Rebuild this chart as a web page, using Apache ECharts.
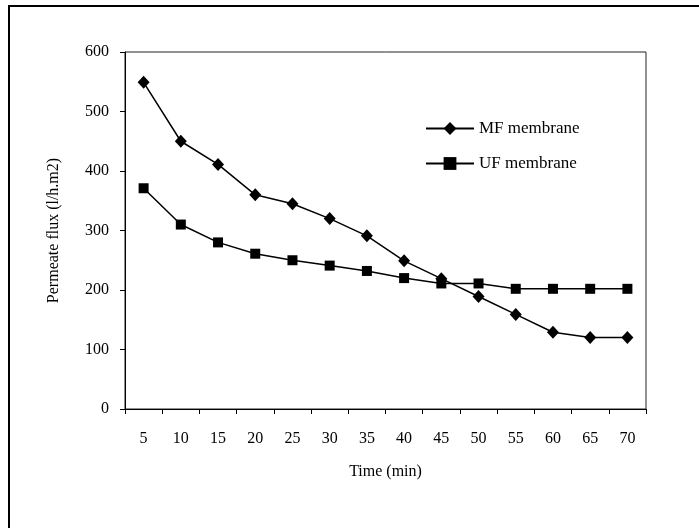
<!DOCTYPE html>
<html>
<head>
<meta charset="utf-8">
<script src="https://cdn.jsdelivr.net/npm/echarts@6/dist/echarts.min.js"></script>
<style>
html,body{margin:0;padding:0;background:#fff;}
#chart{width:699px;height:528px;}
</style>
</head>
<body>
<div id="chart"></div>
<script>
var timeCategories = ['5','10','15','20','25','30','35','40','45','50','55','60','65','70'];
var mfValues = [549, 450, 411, 360, 345, 320, 291, 249, 219, 189, 159, 129, 120, 120];
var ufValues = [371, 310, 280, 261, 250, 241, 232, 220, 211, 211, 202, 202, 202, 202];
var yTicks = {min: 0, max: 600, interval: 100};

var FONT = 'Liberation Serif';
var chart = echarts.init(document.getElementById('chart'), null, {renderer: 'canvas'});
chart.setOption({
  backgroundColor: '#fff',
  animation: false,
  textStyle: {fontFamily: FONT, color: '#000'},
  graphic: [{
    type: 'rect', silent: true, z: 100,
    shape: {x: 9, y: 6, width: 800, height: 700},
    style: {fill: 'none', stroke: '#000', lineWidth: 2}
  }],
  grid: {left: 125, top: 52, right: 53, bottom: 119, show: true, borderColor: '#222', borderWidth: 1, backgroundColor: 'transparent'},
  legend: {
    orient: 'vertical', left: 420, top: 115, itemGap: 18,
    itemWidth: 48, itemHeight: 16,
    textStyle: {fontFamily: FONT, fontSize: 17, color: '#000'},
    data: ['MF membrane', 'UF membrane']
  },
  xAxis: {
    type: 'category', data: timeCategories, boundaryGap: true,
    name: 'Time (min)', nameLocation: 'middle', nameGap: 55,
    nameTextStyle: {fontFamily: FONT, fontSize: 16, color: '#000'},
    axisLine: {lineStyle: {color: '#000', width: 1}},
    axisTick: {show: true, length: 5, lineStyle: {color: '#000'}},
    axisLabel: {fontFamily: FONT, fontSize: 16, color: '#000', margin: 22},
    splitLine: {show: false}
  },
  yAxis: {
    type: 'value', min: yTicks.min, max: yTicks.max, interval: yTicks.interval,
    name: 'Permeate flux (l/h.m2)', nameLocation: 'middle', nameGap: 63, nameRotate: 90,
    nameTextStyle: {fontFamily: FONT, fontSize: 16, color: '#000'},
    axisLine: {show: true, lineStyle: {color: '#000', width: 1}},
    axisTick: {show: true, length: 5, lineStyle: {color: '#000'}},
    axisLabel: {fontFamily: FONT, fontSize: 16, color: '#000', margin: 16},
    splitLine: {show: false}
  },
  series: [{
    name: 'MF membrane', type: 'line', data: mfValues,
    symbol: 'diamond', symbolSize: [12, 13], showAllSymbol: true,
    lineStyle: {color: '#000', width: 1.5},
    itemStyle: {color: '#000', borderWidth: 0}
  }, {
    name: 'UF membrane', type: 'line', data: ufValues,
    symbol: 'rect', symbolSize: 10, showAllSymbol: true,
    lineStyle: {color: '#000', width: 1.5},
    itemStyle: {color: '#000', borderWidth: 0}
  }]
});
</script>
</body>
</html>
